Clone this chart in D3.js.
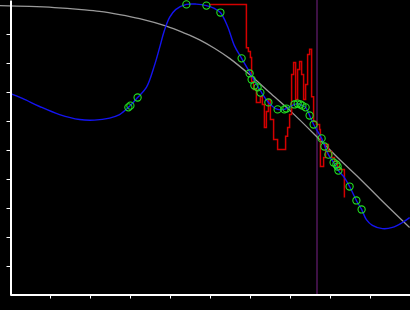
<!DOCTYPE html>
<html>
<head>
<meta charset="utf-8">
<script src="https://cdn.jsdelivr.net/npm/d3@7"></script>
<style>
html,body{margin:0;padding:0;background:#000;}
svg{display:block;}
</style>
</head>
<body>
<script>
// ---- data (arbitrary units: x 0..10, y 0..10) ----
const xTicks = [1,2,3,4,5,6,7,8,9];
const yTicks = [1,2,3,4,5,6,7,8,9];

const grayX = [-0.26,0.49,1.11,1.79,2.24,2.74,3.24,3.91,4.36,4.74,5.11,5.49,5.99,6.49,7.06,7.74,8.24,8.74,9.24,9.99];
const grayY = [9.98,9.95,9.91,9.84,9.78,9.67,9.53,9.27,9.03,8.80,8.51,8.16,7.60,6.98,6.28,5.36,4.67,4.02,3.33,2.33];

const blueX = [0.0,0.31,0.74,1.24,1.74,2.11,2.49,2.74,2.96,3.19,3.41,3.61,3.74,3.86,3.99,4.14,4.41,4.66,4.91,5.11,5.26,5.44,5.61,5.79,6.01,6.16,6.29,6.46,6.69,6.86,7.01,7.19,7.31,7.39,7.49,7.59,7.79,7.96,8.09,8.21,8.36,8.49,8.66,8.79,8.91,9.06,9.31,9.56,9.81,9.99];
const blueY = [6.95,6.78,6.50,6.22,6.05,6.03,6.10,6.22,6.47,6.81,7.16,7.91,8.53,9.12,9.57,9.84,10.02,10.03,9.98,9.88,9.74,9.26,8.60,8.16,7.64,7.26,6.98,6.64,6.40,6.40,6.50,6.60,6.53,6.47,6.19,5.88,5.40,4.84,4.57,4.29,4.05,3.74,3.26,2.95,2.60,2.40,2.29,2.33,2.50,2.67];

const redX = [4.99,5.91,5.96,6.01,6.04,6.09,6.16,6.26,6.31,6.36,6.41,6.46,6.51,6.59,6.69,6.89,6.94,6.99,7.04,7.09,7.14,7.19,7.24,7.29,7.34,7.39,7.44,7.49,7.54,7.59,7.66,7.74,7.76,7.84,7.89,7.96,8.04,8.11,8.19,8.24,8.36,8.36];
const redY = [10.02,8.53,8.40,8.19,7.36,7.09,6.64,6.84,6.57,5.78,6.33,6.74,6.05,5.36,5.02,5.47,5.78,6.22,7.60,8.02,6.74,7.78,8.05,7.60,6.74,7.26,8.29,8.47,6.84,5.98,5.88,5.71,4.43,4.74,5.19,4.95,4.74,4.60,4.40,4.33,4.22,3.36];

const ptX = [2.96,3.01,3.19,4.41,4.91,5.26,5.79,5.99,6.04,6.11,6.19,6.26,6.46,6.69,6.86,6.91,7.11,7.19,7.26,7.31,7.39,7.49,7.59,7.79,7.86,7.96,8.09,8.16,8.19,8.21,8.49,8.66,8.79];
const ptY = [6.47,6.53,6.81,10.02,9.98,9.74,8.16,7.64,7.43,7.22,7.16,6.98,6.64,6.40,6.40,6.43,6.57,6.60,6.57,6.53,6.47,6.19,5.88,5.40,5.12,4.84,4.57,4.50,4.43,4.29,3.74,3.26,2.95];

const markerX = 7.675;

// ---- drawing ----
const W = 410, H = 310;
const svg = d3.select("body").append("svg").attr("width", W).attr("height", H);
svg.append("rect").attr("width", W).attr("height", H).attr("fill", "#000");

const x = d3.scaleLinear().domain([0, 10]).range([10, 410]);
const y = d3.scaleLinear().domain([0, 10.1724]).range([295, 0]);

const zip = (a, b) => a.map((v, i) => [v, b[i]]);
const mk = c => d3.line().x(d => x(d[0])).y(d => y(d[1])).curve(c);

// vertical marker
svg.append("line")
  .attr("x1", x(markerX)).attr("x2", x(markerX))
  .attr("y1", y(10.1724)).attr("y2", y(0))
  .attr("stroke", "#7a2288").attr("stroke-width", 1);

// gray curve
svg.append("path").datum(zip(grayX, grayY))
  .attr("d", mk(d3.curveCatmullRom.alpha(0.5)))
  .attr("fill", "none").attr("stroke", "#9a9a9a").attr("stroke-width", 1.3);

// red step line
svg.append("path").datum(zip(redX, redY))
  .attr("d", mk(d3.curveStepAfter))
  .attr("fill", "none").attr("stroke", "#d40000").attr("stroke-width", 1.5);

// blue curve
svg.append("path").datum(zip(blueX, blueY))
  .attr("d", mk(d3.curveCatmullRom.alpha(0.5)))
  .attr("fill", "none").attr("stroke", "#1414f0").attr("stroke-width", 1.4);

// circles
svg.append("g").selectAll("circle").data(zip(ptX, ptY)).join("circle")
  .attr("cx", d => x(d[0])).attr("cy", d => y(d[1])).attr("r", 3.6)
  .attr("fill", "none").attr("stroke", "#22e022").attr("stroke-width", 1.1);

// axes
const xAxis = svg.append("g").attr("transform", "translate(0,294.5)")
  .call(d3.axisBottom(x).tickValues(xTicks).tickSize(4).tickSizeOuter(0).tickFormat(""));
const yAxis = svg.append("g").attr("transform", "translate(10.5,0)")
  .call(d3.axisLeft(y).tickValues(yTicks).tickSize(4).tickSizeOuter(0).tickFormat(""));
[xAxis, yAxis].forEach(g => {
  g.select(".domain").attr("stroke", "#fff").attr("stroke-width", 2);
  g.selectAll(".tick line").attr("stroke", "#fff").attr("stroke-width", 1);
});
</script>
</body>
</html>
